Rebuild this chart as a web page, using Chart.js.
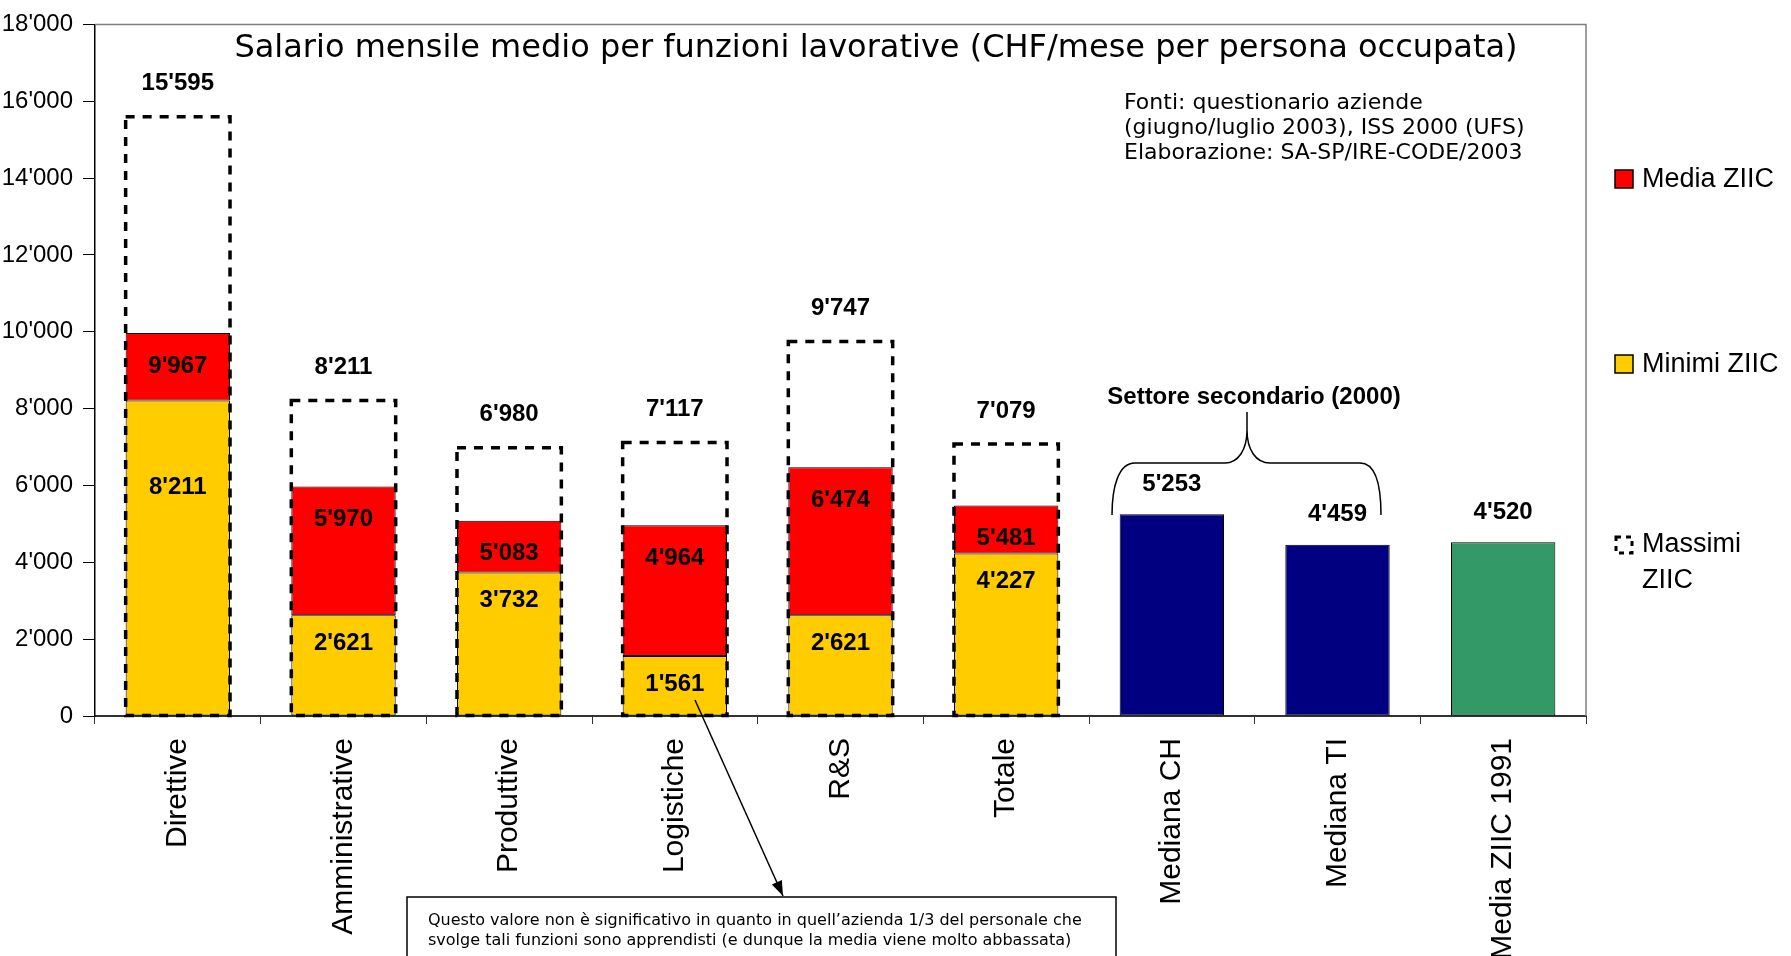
<!DOCTYPE html>
<html>
<head>
<meta charset="utf-8">
<script src="https://cdn.jsdelivr.net/npm/chart.js@4.4.0/dist/chart.umd.min.js"></script>
<style>
  html, body { margin: 0; padding: 0; background: #fff; }
</style>
</head>
<body>
<canvas id="myChart" width="1791" height="956"></canvas>
<script>
const categories = [
    "Direttive",
    "Amministrative",
    "Produttive",
    "Logistiche",
    "R&S",
    "Totale",
    "Mediana CH",
    "Mediana TI",
    "Media ZIIC 1991"
];

// CHF / mese
const minimi = [8211, 2621, 3732, 1561, 2621, 4227, null, null, null];
const medie = [9967, 5970, 5083, 4964, 6474, 5481, null, null, null];
const massimi = [15595, 8211, 6980, 7117, 9747, 7079, null, null, null];
const riferimenti = [null, null, null, null, null, null, 5253, 4459, 4520];

const yTicks = [0, 2000, 4000, 6000, 8000, 10000, 12000, 14000, 16000, 18000];

const fmt = (v) => String(v).replace(/\B(?=(\d{3})+(?!\d))/g, "'");

const SANS = '"Liberation Sans", Arial, sans-serif';
const VERD = '"DejaVu Sans", Verdana, sans-serif';

const ctx = document.getElementById("myChart").getContext("2d");

const data = {
    labels: categories,
    datasets: [
        {
            label: "Media ZIIC",
            data: medie.map((v, i) => v == null ? null : [minimi[i], v]),
            backgroundColor: "#FF0000",
            borderColor: "#000",
            borderWidth: 1,
            borderSkipped: false,
        },
        {
            label: "Minimi ZIIC",
            data: minimi,
            backgroundColor: "#FFCC00",
            borderColor: "#000",
            borderWidth: 1,
            borderSkipped: false,
        },
        {
            label: "Massimi ZIIC",
            data: massimi,
            backgroundColor: "rgba(0,0,0,0)",
            borderWidth: 0,
        },
        {
            label: "Settore secondario",
            data: riferimenti,
            backgroundColor: ["#000080", "#000080", "#000080", "#000080", "#000080", "#000080", "#000080", "#000080", "#339966"],
            borderColor: "#000",
            borderWidth: 1,
            borderSkipped: false,
        }
    ]
};

// dashed boxes + value labels
const etichette = {
    id: "etichette",
    afterDatasetsDraw(chart) {
        const c = chart.ctx;
        c.save();
        c.strokeStyle = "#000";
        c.lineWidth = 3.5;
        c.setLineDash([9, 8]);
        chart.getDatasetMeta(2).data.forEach((bar, i) => {
            if (massimi[i] == null) return;
            c.strokeRect(bar.x - bar.width / 2, bar.y, bar.width, bar.base - bar.y);
        });
        c.setLineDash([]);

        c.fillStyle = "#000";
        c.font = "bold 24px " + SANS;
        c.textAlign = "center";
        c.textBaseline = "middle";

        chart.getDatasetMeta(2).data.forEach((bar, i) => {
            if (massimi[i] != null) c.fillText(fmt(massimi[i]), bar.x, bar.y - 33);
        });
        chart.getDatasetMeta(0).data.forEach((bar, i) => {
            if (medie[i] != null) c.fillText(fmt(medie[i]), bar.x, bar.y + 33);
        });
        chart.getDatasetMeta(1).data.forEach((bar, i) => {
            if (minimi[i] == null) return;
            const off = (bar.base - bar.y) > 200 ? 87 : 28;
            c.fillText(fmt(minimi[i]), bar.x, bar.y + off);
        });
        chart.getDatasetMeta(3).data.forEach((bar, i) => {
            if (riferimenti[i] != null) c.fillText(fmt(riferimenti[i]), bar.x, bar.y - 30);
        });
        c.restore();
    },
    afterDraw(chart) {
        const c = chart.ctx;
        const a = chart.chartArea;
        c.save();

        // plot frame (top / right)
        c.strokeStyle = "#808080";
        c.lineWidth = 1.5;
        c.beginPath();
        c.moveTo(a.left, a.top);
        c.lineTo(a.right, a.top);
        c.lineTo(a.right, a.bottom);
        c.stroke();

        // title
        c.fillStyle = "#000";
        c.font = "32px " + VERD;
        c.textAlign = "center";
        c.textBaseline = "alphabetic";
        c.fillText("Salario mensile medio per funzioni lavorative (CHF/mese per persona occupata)", 876, 57);

        // sources
        c.font = "22px " + VERD;
        c.textAlign = "left";
        c.fillText("Fonti: questionario aziende", 1124, 109);
        c.fillText("(giugno/luglio 2003), ISS 2000 (UFS)", 1124, 134);
        c.fillText("Elaborazione: SA-SP/IRE-CODE/2003", 1124, 159);

        // legend
        c.font = "27px " + SANS;
        c.textBaseline = "middle";
        c.lineWidth = 1.5;
        c.strokeStyle = "#000";
        c.fillStyle = "#FF0000";
        c.fillRect(1615, 170, 18, 18);
        c.strokeRect(1615, 170, 18, 18);
        c.fillStyle = "#FFCC00";
        c.fillRect(1615, 355, 18, 18);
        c.strokeRect(1615, 355, 18, 18);
        c.lineWidth = 3;
        c.setLineDash([5, 5]);
        c.strokeRect(1616, 537, 16, 16);
        c.setLineDash([]);
        c.fillStyle = "#000";
        c.fillText("Media ZIIC", 1642, 180);
        c.fillText("Minimi ZIIC", 1642, 365);
        c.fillText("Massimi", 1642, 545);
        c.fillText("ZIIC", 1642, 581);

        // brace over the reference bars
        c.font = "bold 24px " + SANS;
        c.textAlign = "center";
        c.textBaseline = "middle";
        c.fillText("Settore secondario (2000)", 1254, 397);
        c.lineWidth = 1.5;
        c.beginPath();
        c.moveTo(1112, 515);
        c.bezierCurveTo(1112, 488, 1118, 463, 1135, 463);
        c.lineTo(1225, 463);
        c.bezierCurveTo(1238, 463, 1247, 450, 1247, 430);
        c.lineTo(1247, 412);
        c.moveTo(1247, 430);
        c.bezierCurveTo(1247, 450, 1256, 463, 1270, 463);
        c.lineTo(1360, 463);
        c.bezierCurveTo(1377, 463, 1381, 490, 1381, 515);
        c.stroke();

        // note box and arrow
        c.fillStyle = "#fff";
        c.fillRect(407, 897, 709, 70);
        c.strokeRect(407, 897, 709, 70);
        c.fillStyle = "#000";
        c.font = "16px " + VERD;
        c.textAlign = "left";
        c.textBaseline = "alphabetic";
        c.fillText("Questo valore non è significativo in quanto in quell\u2019azienda 1/3 del personale che", 428, 925);
        c.fillText("svolge tali funzioni sono apprendisti (e dunque la media viene molto abbassata)", 428, 945);

        const x0 = 695, y0 = 700, x1 = 783, y1 = 896;
        c.beginPath();
        c.moveTo(x0, y0);
        c.lineTo(x1, y1);
        c.stroke();
        const ang = Math.atan2(y1 - y0, x1 - x0);
        c.beginPath();
        c.moveTo(x1, y1);
        c.lineTo(x1 - 16 * Math.cos(ang - 0.35), y1 - 16 * Math.sin(ang - 0.35));
        c.lineTo(x1 - 16 * Math.cos(ang + 0.35), y1 - 16 * Math.sin(ang + 0.35));
        c.closePath();
        c.fill();

        c.restore();
    }
};

const config = {
    type: "bar",
    data: data,
    options: {
        responsive: false,
        animation: false,
        layout: {
            padding: { top: 23, right: 205, left: 0, bottom: 0 }
        },
        datasets: {
            bar: {
                grouped: false,
                barPercentage: 0.63,
                categoryPercentage: 1,
            }
        },
        scales: {
            x: {
                afterFit: (scale) => { scale.height = 240; },
                grid: {
                    drawOnChartArea: false,
                    drawTicks: true,
                    tickLength: 8,
                    color: "#333",
                },
                border: { color: "#333", width: 2 },
                ticks: {
                    color: "#000",
                    font: { family: SANS, size: 30 },
                    minRotation: 90,
                    maxRotation: 90,
                    padding: 14,
                    autoSkip: false,
                }
            },
            y: {
                min: 0,
                max: 18000,
                afterFit: (scale) => { scale.width = 95; },
                afterBuildTicks: (scale) => { scale.ticks = yTicks.map(v => ({ value: v })); },
                grid: {
                    drawOnChartArea: false,
                    drawTicks: true,
                    tickLength: 12,
                    color: "#000",
                },
                border: { color: "#000", width: 1.5 },
                ticks: {
                    color: "#000",
                    font: { family: SANS, size: 24 },
                    padding: 10,
                    callback: (v) => fmt(v),
                }
            }
        },
        plugins: {
            legend: { display: false },
            tooltip: { enabled: false },
            title: { display: false }
        }
    },
    plugins: [etichette]
};

const myChart = new Chart(ctx, config);
</script>
</body>
</html>
